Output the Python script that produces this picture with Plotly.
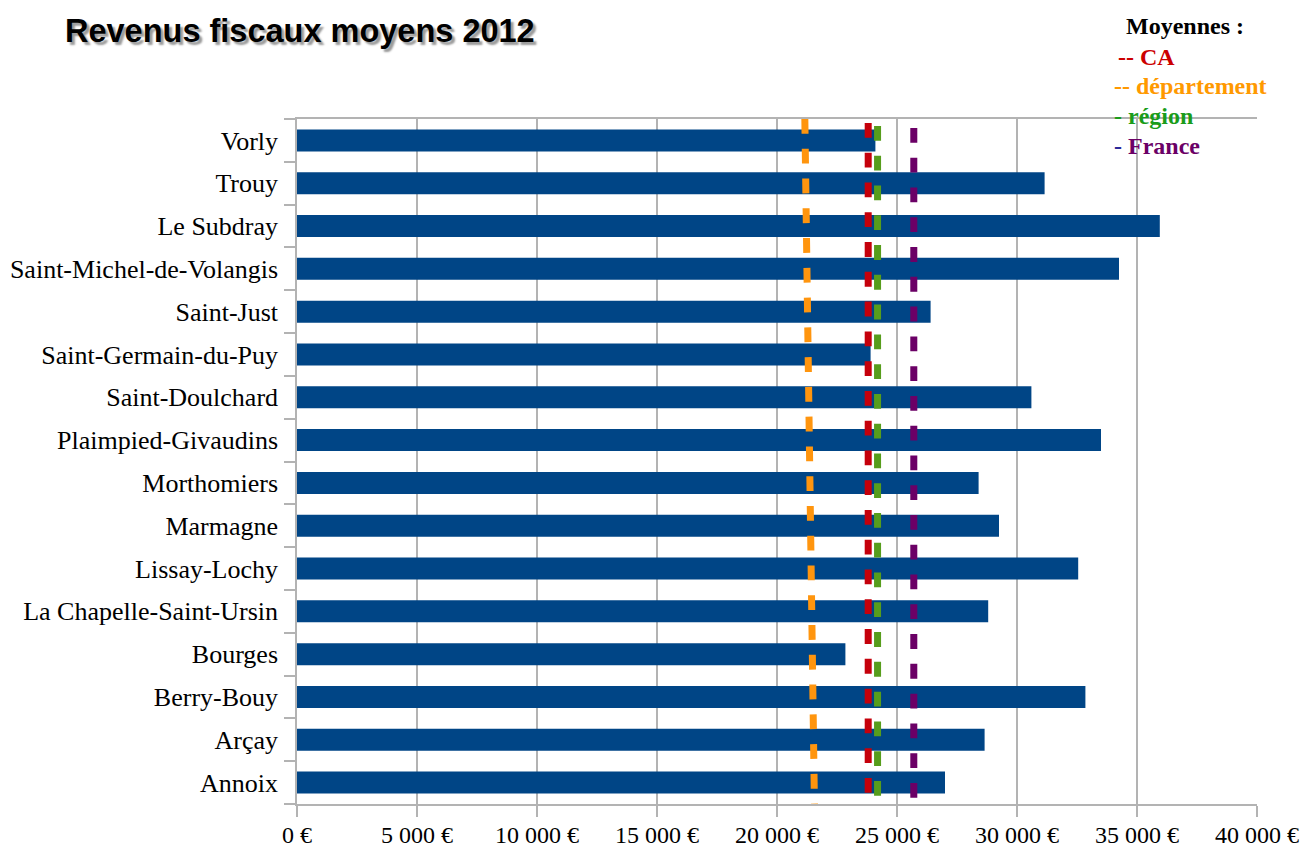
import plotly.graph_objects as go

# Communes (bottom to top) and their 2012 average taxable income (EUR)
communes = [
    "Annoix", "Arçay", "Berry-Bouy", "Bourges", "La Chapelle-Saint-Ursin",
    "Lissay-Lochy", "Marmagne", "Morthomiers", "Plaimpied-Givaudins",
    "Saint-Doulchard", "Saint-Germain-du-Puy", "Saint-Just",
    "Saint-Michel-de-Volangis", "Le Subdray", "Trouy", "Vorly",
]
revenus = [
    27000, 28650, 32850, 22850, 28800,
    32550, 29250, 28400, 33500,
    30600, 23900, 26400,
    34250, 35950, 31150, 24100,
]

# Reference averages (EUR); the departement line runs from its top value to its bottom value
moyenne_ca = 23800
moyenne_departement = [21160, 21560]  # [top, bottom]
moyenne_region = 24190
moyenne_france = 25700

x_ticks = [0, 5000, 10000, 15000, 20000, 25000, 30000, 35000, 40000]
x_tick_labels = ["0 €", "5 000 €", "10 000 €", "15 000 €", "20 000 €",
                 "25 000 €", "30 000 €", "35 000 €", "40 000 €"]

BAR = "#004586"
GRID = "#b3b3b3"
SERIF = "Liberation Serif, Times New Roman, serif"

ML, MR, MT, MB = 297, 45, 119, 45
PLOT_W = 1302 - ML - MR
PLOT_H = 849 - MT - MB


def px_x(px):
    return (px - ML) / PLOT_W


def px_y(py):
    return 1 + (MT - py) / PLOT_H


fig = go.Figure()
fig.add_trace(go.Bar(
    y=communes, x=revenus, orientation="h",
    marker=dict(color=BAR, line=dict(width=0)),
    hoverinfo="x+y", showlegend=False,
))


def dashed_vline(x_top, x_bottom, color, offset_px):
    # vertical dashed average line spanning the whole plot height
    frac = offset_px / PLOT_H
    x_start = x_top + (x_bottom - x_top) * frac
    fig.add_shape(
        type="line", xref="x", yref="paper",
        x0=x_start, x1=x_bottom, y0=1 - frac, y1=0,
        line=dict(color=color, width=7, dash="14.8px,14.97px"),
        layer="above",
    )


dashed_vline(moyenne_departement[0], moyenne_departement[1], "#ff950e", 0)
dashed_vline(moyenne_ca, moyenne_ca, "#c5000b", 4)
dashed_vline(moyenne_region, moyenne_region, "#579d1c", 7)
dashed_vline(moyenne_france, moyenne_france, "#6b0066", 9)

# Title with drop shadow
fig.add_annotation(
    text="<b>Revenus fiscaux moyens 2012</b>",
    xref="paper", yref="paper", x=px_x(63), y=px_y(31),
    xanchor="left", yanchor="middle",
    showarrow=False,
    font=dict(family="Liberation Sans, Arial, sans-serif", size=32.5, color="#000000",
              shadow="3px 3px 2px #9a9a9a"),
)

# Legend block (text)
legend_lines = [
    ("Moyennes :", "#000000", None, 1124, 26),
    ("-- CA", "#cc0000", None, 1116, 57),
    ("-- département", "#ff9900", None, 1112, 86),
    ("- région", "#1a9c1a", None, 1112, 116),
    ("- France", "#6b0066", "#2a2a99", 1112, 146),
]
for text, color, dash_color, px, py in legend_lines:
    if dash_color:
        label = f"<span style='color:{dash_color}'>-</span> {text[2:]}"
    else:
        label = text
    fig.add_annotation(
        text=f"<b>{label}</b>",
        xref="paper", yref="paper",
        x=px_x(px), y=px_y(py),
        xanchor="left", yanchor="middle",
        showarrow=False,
        font=dict(family=SERIF, size=24, color=color),
    )

fig.update_layout(
    width=1302, height=849,
    margin=dict(l=ML, r=MR, t=MT, b=MB, autoexpand=False),
    paper_bgcolor="white", plot_bgcolor="white",
    bargap=0.486,
    xaxis=dict(
        range=[0, 40000], tickvals=x_ticks, ticktext=x_tick_labels,
        showgrid=True, gridcolor=GRID, gridwidth=1.5,
        showline=True, linecolor=GRID, linewidth=1.5, mirror=True,
        ticks="outside", ticklen=11, tickcolor=GRID, tickwidth=1.5,
        tickfont=dict(family=SERIF, size=24, color="#000000"),
        ticklabelstandoff=-3,
        zeroline=False, fixedrange=True, automargin=False,
    ),
    yaxis=dict(
        categoryorder="array", categoryarray=communes,
        showgrid=False,
        showline=True, linecolor=GRID, linewidth=1.5,
        ticks="outside", tickson="boundaries", ticklen=11, tickcolor=GRID, tickwidth=1.5,
        tickfont=dict(family=SERIF, size=26, color="#000000"),
        ticklabelstandoff=12,
        fixedrange=True, automargin=False,
    ),
)

fig.write_html("out.html")
